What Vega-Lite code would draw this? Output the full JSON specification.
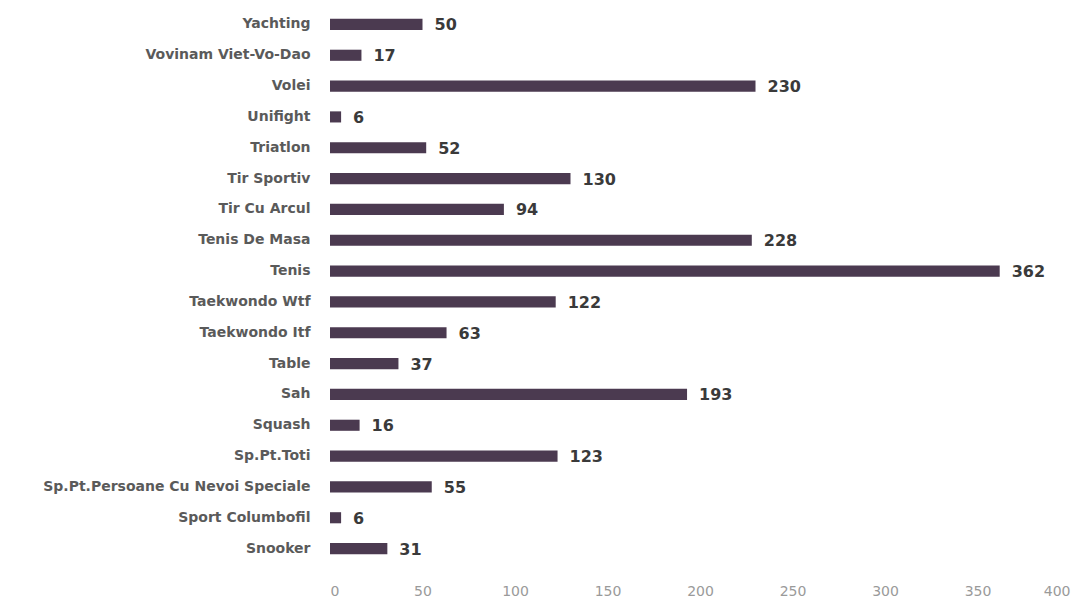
{
  "$schema": "https://vega.github.io/schema/vega-lite/v6.json",
  "autosize": {"type": "none"},
  "padding": {"left": 330, "top": 9, "right": 16, "bottom": 34},
  "width": 740,
  "height": 555,
  "background": "white",
  "data": {"values": [
    {"sport": "Yachting", "value": 50},
    {"sport": "Vovinam Viet-Vo-Dao", "value": 17},
    {"sport": "Volei", "value": 230},
    {"sport": "Unifight", "value": 6},
    {"sport": "Triatlon", "value": 52},
    {"sport": "Tir Sportiv", "value": 130},
    {"sport": "Tir Cu Arcul", "value": 94},
    {"sport": "Tenis De Masa", "value": 228},
    {"sport": "Tenis", "value": 362},
    {"sport": "Taekwondo Wtf", "value": 122},
    {"sport": "Taekwondo Itf", "value": 63},
    {"sport": "Table", "value": 37},
    {"sport": "Sah", "value": 193},
    {"sport": "Squash", "value": 16},
    {"sport": "Sp.Pt.Toti", "value": 123},
    {"sport": "Sp.Pt.Persoane Cu Nevoi Speciale", "value": 55},
    {"sport": "Sport Columbofil", "value": 6},
    {"sport": "Snooker", "value": 31}
  ]},
  "encoding": {
    "y": {"field": "sport", "type": "nominal", "sort": null,
      "scale": {"paddingInner": 0.64, "paddingOuter": 0.32},
      "axis": {"title": null, "domain": false, "ticks": false, "labelPadding": 20,
        "labelFont": "DejaVu Sans", "labelFontWeight": "bold", "labelFontSize": 14, "labelColor": "#5a5a5a", "labelLimit": 400}},
    "x": {"field": "value", "type": "quantitative",
      "scale": {"domain": [0, 400]},
      "axis": {"title": null, "domain": false, "ticks": false, "grid": false, "labelOverlap": false,
        "values": [0, 50, 100, 150, 200, 250, 300, 350, 400], "labelPadding": 20,
        "labelFont": "DejaVu Sans", "labelFontSize": 14, "labelColor": "#9a9a9a"}}
  },
  "layer": [
    {"mark": {"type": "bar", "color": "#4b3a50"}},
    {"mark": {"type": "text", "align": "left", "dx": 12, "dy": 1, "font": "DejaVu Sans", "fontWeight": "bold", "fontSize": 16, "color": "#3a3a3a"},
     "encoding": {"text": {"field": "value", "type": "quantitative"}}}
  ],
  "config": {"view": {"stroke": null}}
}
